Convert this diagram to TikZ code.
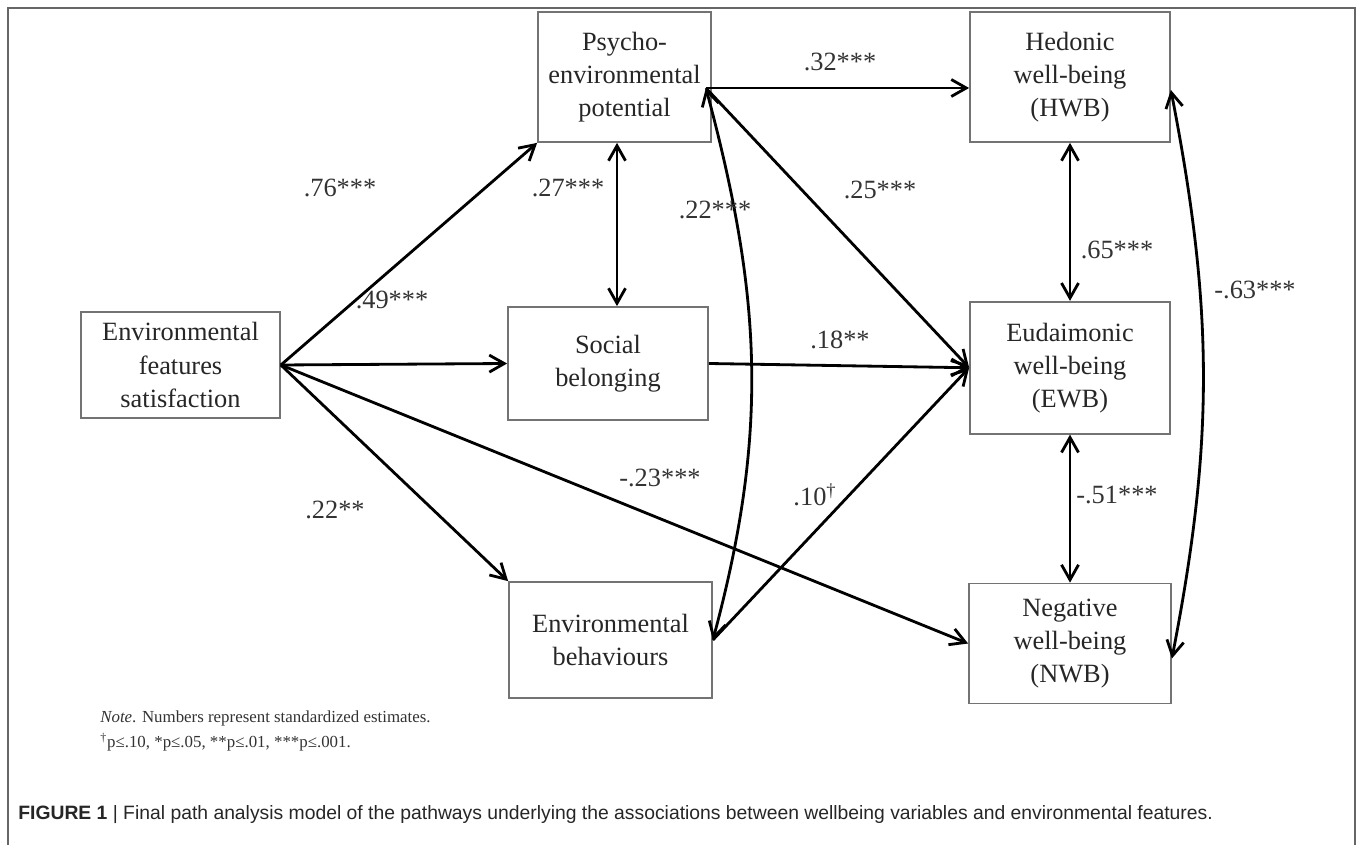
\documentclass[tikz,border=0pt]{standalone}
\usepackage{fontspec}
\setmainfont{Liberation Serif}
\newfontfamily\capfont{Liberation Sans}
\usetikzlibrary{positioning,calc,arrows.meta}

\begin{document}
\begin{tikzpicture}[node distance=3cm,
  box/.style={draw=black!55,line width=1pt,align=center,inner sep=0pt,font=\fontsize{15}{18.8}\selectfont,text=black!85},
  est/.style={inner sep=1pt,font=\fontsize{15}{18}\selectfont,text=black!80},
  path/.style={line width=1.6pt,-{Straight Barb[length=0.3cm,width=0.34cm]}},
  cov/.style={line width=1.6pt,{Straight Barb[length=0.3cm,width=0.34cm]}-{Straight Barb[length=0.3cm,width=0.34cm]}}]
\useasboundingbox (0,0) rectangle (27.16,-16.9);
\draw[black!60,line width=1.2pt] (0.16,-16.9)--(0.16,-0.16)--(27.1,-0.16)--(27.1,-16.9);
% boxes
\node[box,minimum width=3.98cm,minimum height=2.12cm] (efs) at (3.61,-7.3) {Environmental\\features\\satisfaction};
\node[box,minimum width=3.46cm,minimum height=2.6cm] (pep) at (12.49,-1.54) {Psycho-\\environmental\\potential};
\node[box,minimum width=4cm,minimum height=2.26cm] (sb) at (12.16,-7.27) {Social\\belonging};
\node[box,minimum width=4.06cm,minimum height=2.32cm] (eb) at (12.21,-12.8) {Environmental\\behaviours};
\node[box,minimum width=4cm,minimum height=2.6cm] (hwb) at (21.4,-1.54) {Hedonic\\well-being\\(HWB)};
\node[box,minimum width=4cm,minimum height=2.64cm,below=3.16cm of hwb] (ewb) {Eudaimonic\\well-being\\(EWB)};
\node[box,minimum width=4.04cm,minimum height=2.4cm,below=2.96cm of ewb] (nwb) {Negative\\well-being\\(NWB)};
\coordinate (pe) at ($(pep.east)+(-0.12,-0.22)$);
% paths
\draw[path] (efs.east) -- (pep.south west);
\draw[path] (efs.east) -- (sb.west);
\draw[path] (efs.east) -- (eb.north west);
\draw[path] (efs.east) -- (nwb.west);
\draw[path] (pe) -- (pe -| hwb.west);
\draw[path] (pe) -- (ewb.west);
\draw[path] (sb.east) -- (ewb.west);
\draw[path] (eb.east) -- (ewb.west);
% covariances
\draw[cov] ($(pep.south)+(-0.15,0)$) -- ($(pep.south |- sb.north)+(-0.15,0)$);
\draw[cov] (pe) to[out=-75,in=75] (eb.east);
\draw[cov] (hwb.south) -- (ewb.north);
\draw[cov] (ewb.south) -- (nwb.north);
\draw[cov] ($(hwb.east)+(0,-0.26)$) to[out=-79,in=79] ($(nwb.east)+(0,-0.3)$);
% estimates
\node[est] (l76) at (6.8,-3.76) {.76***};
\node[est] (l27) at (11.36,-3.76) {.27***};
\node[est] (l22a) at (14.3,-4.2) {.22***};
\node[est] (l25) at (17.6,-3.8) {.25***};
\node[est] (l32) at (16.8,-1.24) {.32***};
\node[est] (l65) at (22.34,-5.0) {.65***};
\node[est] (l63) at (25.1,-5.8) {-.63***};
\node[est] (l49) at (7.84,-6.0) {.49***};
\node[est] (l18) at (16.8,-6.8) {.18**};
\node[est] (l23) at (13.2,-9.56) {-.23***};
\node[est] (l22b) at (6.7,-10.2) {.22**};
\node[est] (l10) at (16.3,-9.9) {.10\textsuperscript{\dag}};
\node[est] (l51) at (22.34,-9.9) {-.51***};
% note and caption
\node[anchor=west,inner sep=0pt,font=\fontsize{9.6}{11}\selectfont,text=black!80] (note) at (2.0,-14.36) {\textit{Note}. Numbers represent standardized estimates.};
\node[anchor=west,inner sep=0pt,font=\fontsize{9.6}{11}\selectfont,text=black!80] (sig) at (2.0,-14.84) {\textsuperscript{\dag}p≤.10, *p≤.05, **p≤.01, ***p≤.001.};
\node[anchor=west,inner sep=0pt,font=\capfont\fontsize{11}{12}\selectfont,text=black!85] (cap) at (0.36,-16.3) {\textbf{FIGURE 1} | Final path analysis model of the pathways underlying the associations between wellbeing variables and environmental features.};
\end{tikzpicture}
\end{document}
